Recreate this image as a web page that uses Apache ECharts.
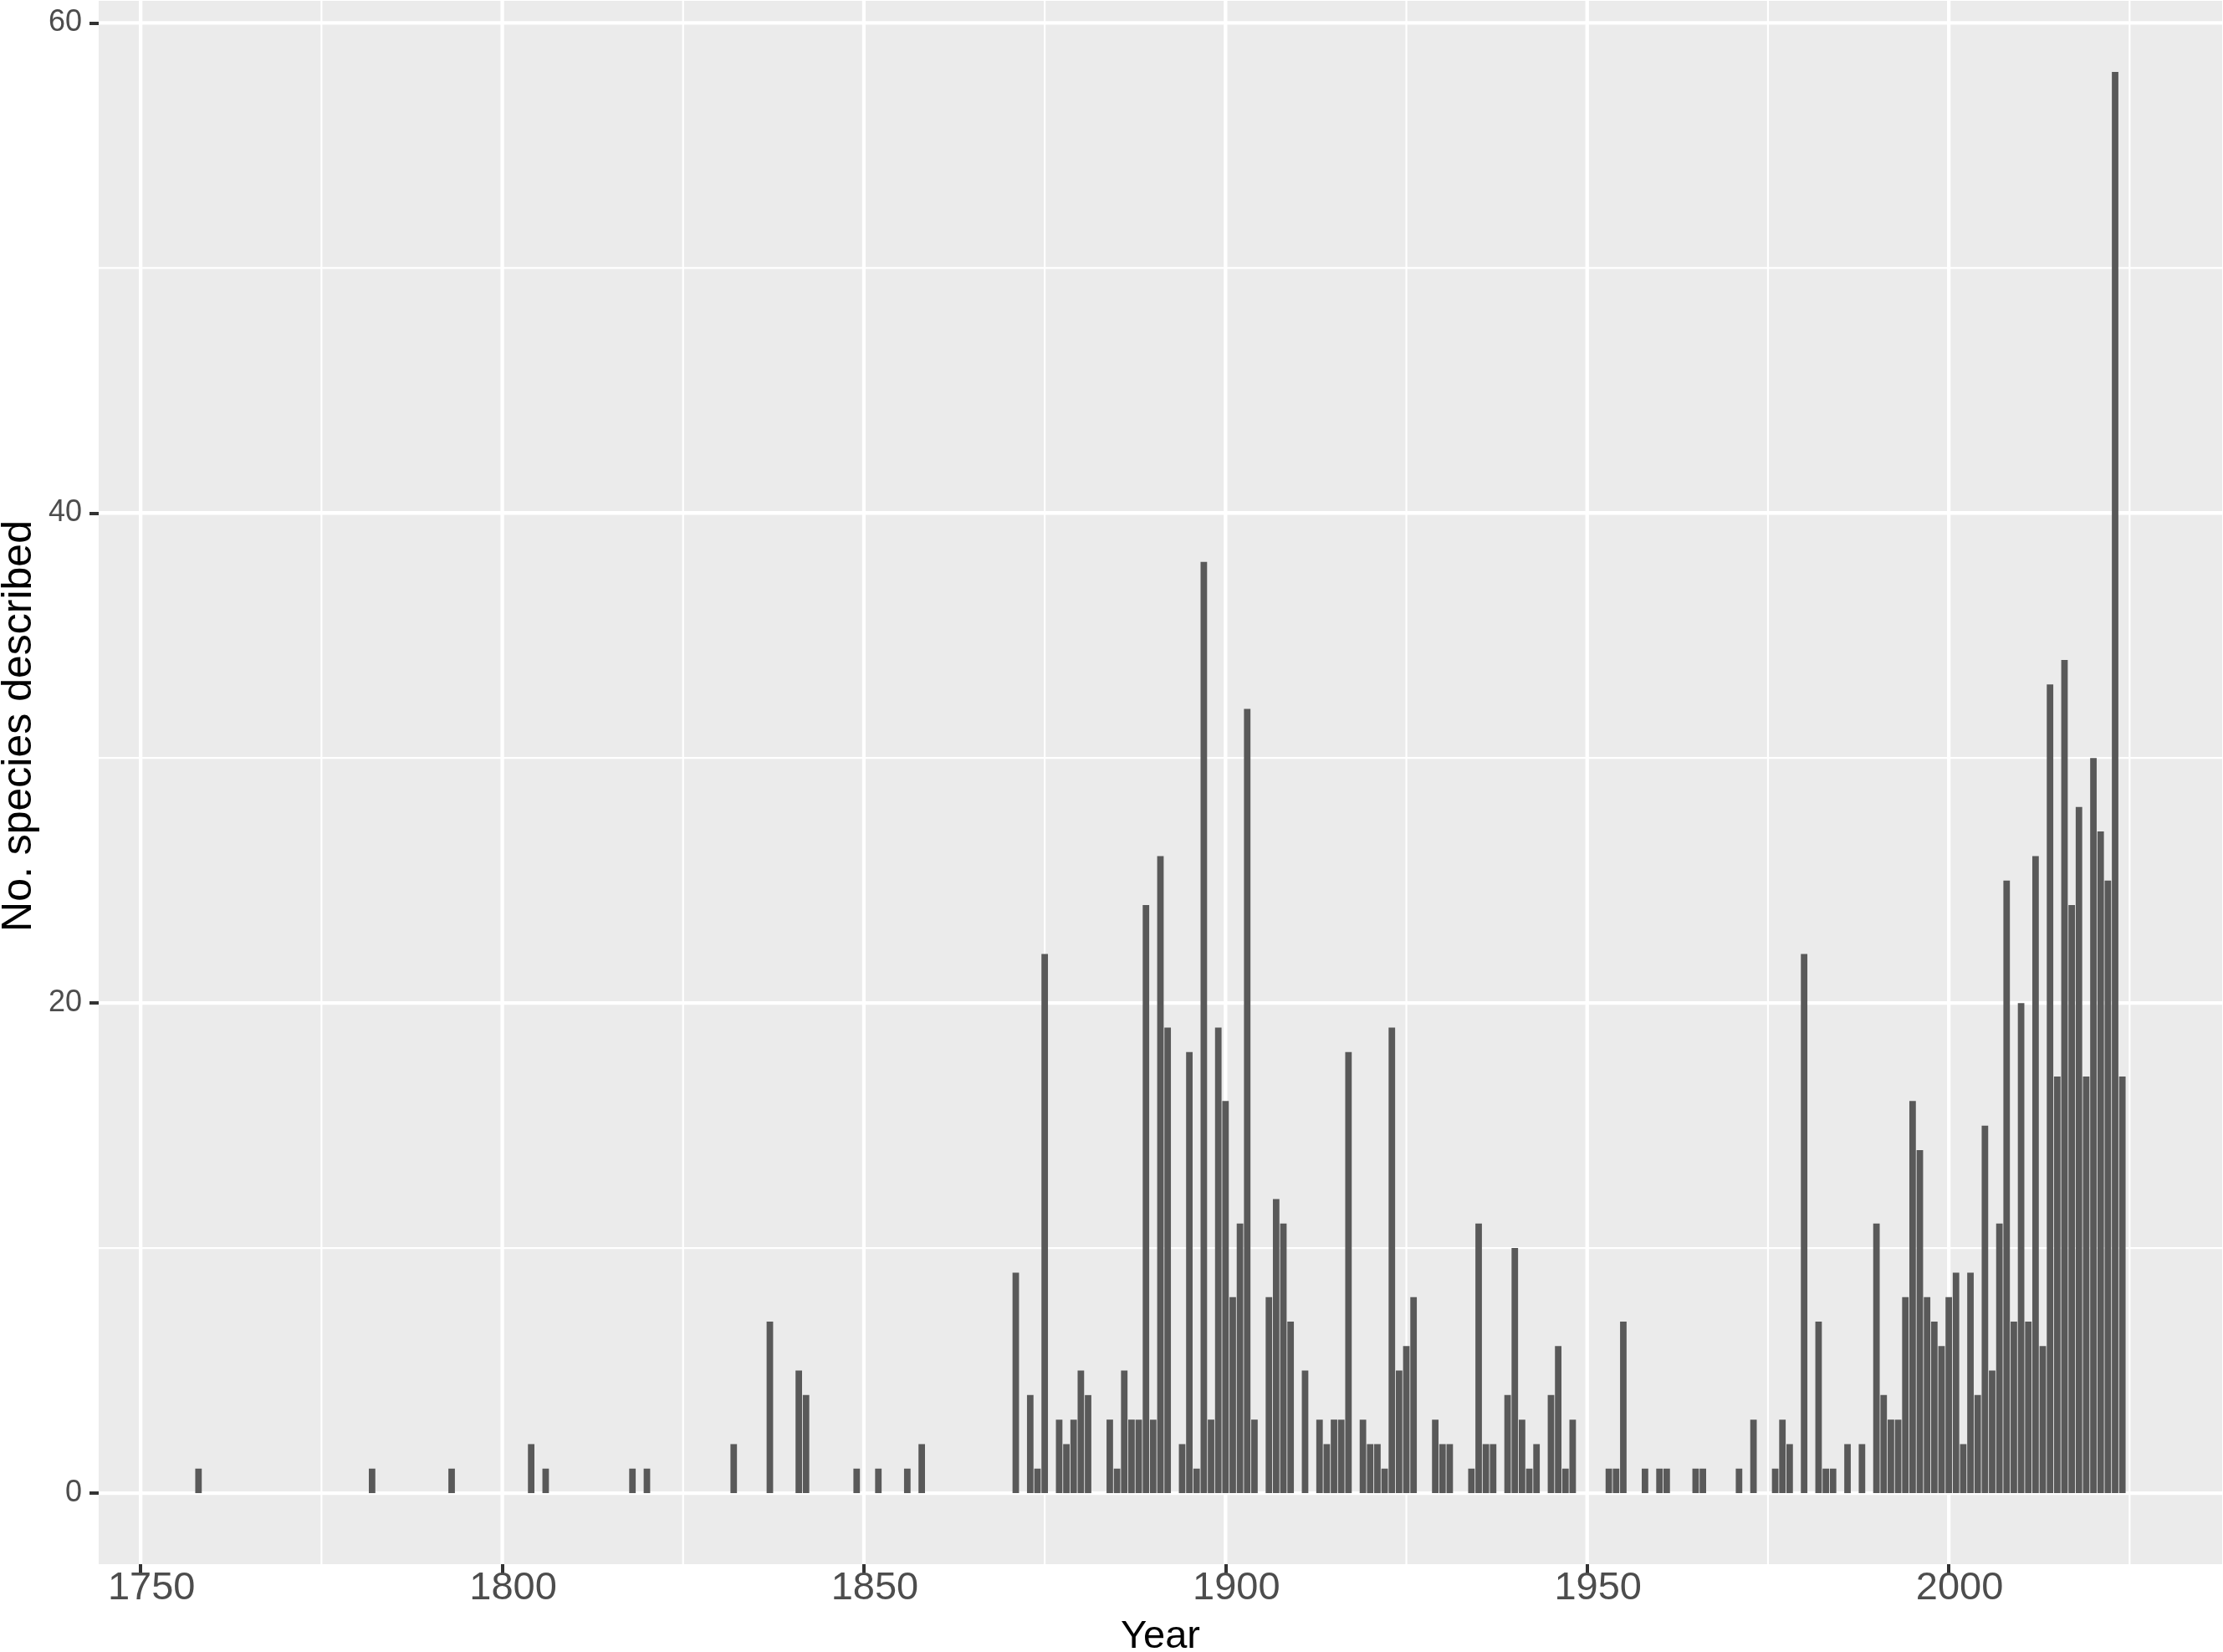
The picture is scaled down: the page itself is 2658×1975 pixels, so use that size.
<!DOCTYPE html>
<html>
<head>
<meta charset="utf-8">
<script src="https://cdn.jsdelivr.net/npm/echarts@6/dist/echarts.min.js"></script>
<style>
html,body{margin:0;padding:0;background:#ffffff;}
#chart{width:2658px;height:1975px;}
</style>
</head>
<body>
<div id="chart"></div>
<script>
// ---- Data ----
const years = [1758,1782,1793,1804,1806,1818,1820,1832,1837,1841,1842,1849,1852,1856,1858,
  1871,1873,1874,1875,1877,1878,1879,1880,1881,1884,1885,1886,1887,1888,1889,1890,1891,1892,
  1894,1895,1896,1897,1898,1899,1900,1901,1902,1903,1904,1906,1907,1908,1909,1911,1913,1914,
  1915,1916,1917,1919,1920,1921,1922,1923,1924,1925,1926,1929,1930,1931,1934,1935,1936,1937,
  1939,1940,1941,1942,1943,1945,1946,1947,1948,1953,1954,1955,1958,1960,1961,1965,1966,1971,
  1973,1976,1977,1978,1980,1982,1983,1984,1986,1988,1990,1991,1992,1993,1994,1995,1996,1997,
  1998,1999,2000,2001,2002,2003,2004,2005,2006,2007,2008,2009,2010,2011,2012,2013,2014,2015,
  2016,2017,2018,2019,2020,2021,2022,2023,2024];
const counts = [1,1,1,2,1,1,1,2,7,5,4,1,1,1,2,
  9,4,1,22,3,2,3,5,4,3,1,5,3,3,24,3,26,19,
  2,18,1,38,3,19,16,8,11,32,3,8,12,11,7,5,3,2,
  3,3,18,3,2,2,1,19,5,6,8,3,2,2,1,11,2,2,
  4,10,3,1,2,4,6,1,3,1,1,7,1,1,1,1,1,1,
  3,1,3,2,22,7,1,1,2,2,11,4,3,3,8,16,14,8,
  7,6,8,9,2,9,4,15,5,11,25,7,20,7,26,6,33,17,
  34,24,28,17,30,27,25,58,17];
const xTickLabels = [1750,1800,1850,1900,1950,2000];
const xMinorGrid = [1775,1825,1875,1925,1975,2025];
const yTickLabels = [0,20,40,60];
const yMinorGrid = [10,30,50];
const xTitle = 'Year';
const yTitle = 'No. species described';

// ---- Scale limits (ggplot-style 5% expansion) ----
const X_MIN = 1744.2, X_MAX = 2037.8;
const Y_MIN = -2.9, Y_MAX = 60.9;

const W = 2658, H = 1975;
const GRID = {left:118, right:1, top:1, bottom:105};
const plotW = W - GRID.left - GRID.right;
const barW = 0.9 * plotW / (X_MAX - X_MIN);
const FONT = '"Liberation Sans", Arial, Helvetica, sans-serif';

function vLines(vals, width) {
  return {
    type: 'custom', silent: true, z: 1, clip: true,
    data: vals.map(v => [v, 0]),
    renderItem: function (params, api) {
      const v = api.value(0);
      const p1 = api.coord([v, Y_MIN]);
      const p2 = api.coord([v, Y_MAX]);
      return {type: 'line', shape: {x1: p1[0], y1: p1[1], x2: p2[0], y2: p2[1]},
              style: {stroke: '#ffffff', lineWidth: width}};
    }
  };
}
function hLines(vals, width) {
  return {
    type: 'custom', silent: true, z: 1, clip: true,
    data: vals.map(v => [X_MIN, v]),
    renderItem: function (params, api) {
      const v = api.value(1);
      const p1 = api.coord([X_MIN, v]);
      const p2 = api.coord([X_MAX, v]);
      return {type: 'line', shape: {x1: p1[0], y1: p1[1], x2: p2[0], y2: p2[1]},
              style: {stroke: '#ffffff', lineWidth: width}};
    }
  };
}

const chart = echarts.init(document.getElementById('chart'), null, {renderer: 'canvas', width: W, height: H});
chart.setOption({
  animation: false,
  backgroundColor: '#ffffff',
  grid: {left: GRID.left, right: GRID.right, top: GRID.top, bottom: GRID.bottom,
         show: true, backgroundColor: '#EBEBEB', borderWidth: 0, containLabel: false,
         outerBoundsMode: 'none'},
  xAxis: {
    type: 'value', min: X_MIN, max: X_MAX,
    axisLine: {show: false, onZero: false},
    splitLine: {show: false},
    axisTick: {show: true, customValues: xTickLabels, length: 11, lineStyle: {color: '#333333', width: 4}},
    axisLabel: {customValues: xTickLabels, formatter: v => String(v), fontSize: 47, color: '#4D4D4D',
                fontFamily: FONT, margin: 6, padding: [0, 0, 0, 26]},
    name: xTitle, nameLocation: 'middle', nameGap: 64,
    nameTextStyle: {fontSize: 47, color: '#000000', fontFamily: FONT}
  },
  yAxis: {
    type: 'value', min: Y_MIN, max: Y_MAX,
    axisLine: {show: false, onZero: false},
    splitLine: {show: false},
    axisTick: {show: true, customValues: yTickLabels, length: 11, lineStyle: {color: '#333333', width: 4}},
    axisLabel: {customValues: yTickLabels, formatter: v => String(v), fontSize: 36, color: '#4D4D4D',
                fontFamily: FONT, margin: 20}
  },
  graphic: [{
    type: 'text', x: 23, y: 868, rotation: Math.PI / 2,
    style: {text: yTitle, fontSize: 50, fontFamily: FONT, fill: '#000000',
            align: 'center', verticalAlign: 'middle', textAlign: 'center', textVerticalAlign: 'middle'}
  }],
  series: [
    hLines(yMinorGrid, 2.2),
    vLines(xMinorGrid, 2.2),
    hLines(yTickLabels, 4.3),
    vLines(xTickLabels, 4.3),
    {
      type: 'bar', z: 3, barWidth: barW,
      data: years.map((y, i) => [y, counts[i]]),
      itemStyle: {color: '#595959'},
      silent: true
    }
  ]
});
</script>
</body>
</html>
